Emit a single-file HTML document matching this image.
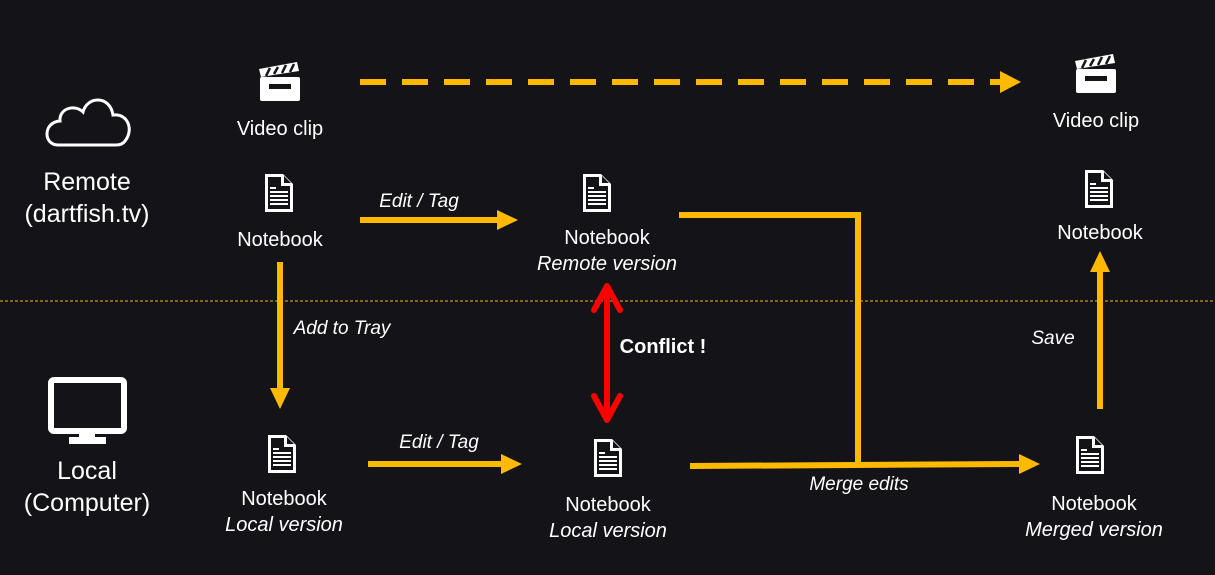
<!DOCTYPE html>
<html><head><meta charset="utf-8"><style>
html,body{margin:0;padding:0;background:#141418;}
svg{display:block}
text{font-family:"Liberation Sans",sans-serif;fill:#fff;text-anchor:middle}
.i{font-style:italic}
</style></head><body>
<svg width="1215" height="575" viewBox="0 0 1215 575" xmlns="http://www.w3.org/2000/svg">
<defs>
<g id="doc">
<path d="M2,2 H20 L30,12 V40 H2 Z" fill="#fff"/>
<path d="M5,5 H18 V14 H27 V37 H5 Z" fill="#141418"/>
<path d="M21,4 L28,11 H21 Z" fill="#141418"/>
<rect x="7" y="15" width="6" height="2" fill="#fff"/>
<rect x="7" y="19" width="18" height="2" fill="#fff"/>
<rect x="7" y="23" width="18" height="2" fill="#fff"/>
<rect x="7" y="27" width="18" height="2" fill="#fff"/>
<rect x="7" y="31" width="18" height="2" fill="#fff"/>
</g>
<g id="clap">
<rect x="1" y="15" width="40" height="24" rx="2" fill="#fff"/>
<path d="M0,7 L38,0 L40,9 L2,15 Z" fill="#fff"/>
<path d="M7,14 L11,6 M15,12 L19,5 M23,11 L27,3 M31,10 L35,2" stroke="#141418" stroke-width="2.5"/>
<rect x="10" y="22" width="22" height="5" fill="#141418"/>
</g>
</defs>

<line x1="0" y1="301" x2="1215" y2="301" stroke="#c8961a" stroke-width="1.2" stroke-dasharray="3,2"/>

<!-- cloud -->
<path d="M58,145 C43,145 43,122 60,121 C59,108 75,104 83,112 C87,96 110,95 113,115 C128,113 134,130 125,141 C123,144 120,145 116,145 Z" fill="none" stroke="#fff" stroke-width="3"/>
<text x="87" y="190" font-size="25">Remote</text>
<text x="87" y="222" font-size="25">(dartfish.tv)</text>

<!-- monitor -->
<rect x="51" y="380" width="73" height="51" rx="3" fill="none" stroke="#fff" stroke-width="6"/>
<rect x="79" y="431" width="16" height="6" fill="#fff"/>
<rect x="69" y="437" width="37" height="7" fill="#fff"/>
<text x="87" y="479" font-size="25">Local</text>
<text x="87" y="511" font-size="25">(Computer)</text>

<!-- top row -->
<use href="#clap" x="259" y="62"/>
<text x="280" y="135" font-size="20">Video clip</text>
<use href="#doc" x="263" y="172"/>
<text x="280" y="246" font-size="20">Notebook</text>

<use href="#clap" x="1075" y="54"/>
<text x="1096" y="127" font-size="20">Video clip</text>
<use href="#doc" x="1083" y="168"/>
<text x="1100" y="239" font-size="20">Notebook</text>

<use href="#doc" x="581" y="172"/>
<text x="607" y="244" font-size="20">Notebook</text>
<text x="607" y="270" font-size="20" class="i">Remote version</text>

<!-- bottom row -->
<use href="#doc" x="266" y="433"/>
<text x="284" y="505" font-size="20">Notebook</text>
<text x="284" y="531" font-size="20" class="i">Local version</text>

<use href="#doc" x="592" y="437"/>
<text x="608" y="511" font-size="20">Notebook</text>
<text x="608" y="537" font-size="20" class="i">Local version</text>

<use href="#doc" x="1074" y="434"/>
<text x="1094" y="510" font-size="20">Notebook</text>
<text x="1094" y="536" font-size="20" class="i">Merged version</text>

<!-- dashed arrow -->
<line x1="360" y1="82" x2="1000" y2="82" stroke="#ffb900" stroke-width="6" stroke-dasharray="26,16"/>
<path d="M1000,71 L1021,82 L1000,93 Z" fill="#ffb900"/>

<!-- Edit/Tag top -->
<line x1="360" y1="220" x2="498" y2="220" stroke="#ffb900" stroke-width="6"/>
<path d="M497,210 L518,220 L497,230 Z" fill="#ffb900"/>
<text x="419" y="207" font-size="19" class="i">Edit / Tag</text>

<!-- remote to merge -->
<polyline points="679,215 858,215 858,464" fill="none" stroke="#ffb900" stroke-width="6"/>

<!-- add to tray -->
<line x1="280" y1="262" x2="280" y2="390" stroke="#ffb900" stroke-width="6"/>
<path d="M270,388 L280,409 L290,388 Z" fill="#ffb900"/>
<text x="342" y="334" font-size="19" class="i">Add to Tray</text>

<!-- conflict -->
<line x1="607" y1="288" x2="607" y2="418" stroke="#ff0000" stroke-width="6"/>
<polyline points="594,310 607,286 620,310" fill="none" stroke="#ff0000" stroke-width="6" stroke-linecap="round" stroke-linejoin="round"/>
<polyline points="594,396 607,420 620,396" fill="none" stroke="#ff0000" stroke-width="6" stroke-linecap="round" stroke-linejoin="round"/>
<text x="663" y="353" font-size="20" font-weight="bold">Conflict !</text>

<!-- Edit/Tag bottom -->
<line x1="368" y1="464" x2="502" y2="464" stroke="#ffb900" stroke-width="6"/>
<path d="M501,454 L522,464 L501,474 Z" fill="#ffb900"/>
<text x="439" y="448" font-size="19" class="i">Edit / Tag</text>

<!-- merge -->
<line x1="690" y1="466" x2="1020" y2="464" stroke="#ffb900" stroke-width="6"/>
<path d="M1019,454 L1040,464 L1019,474 Z" fill="#ffb900"/>
<text x="859" y="490" font-size="19" class="i">Merge edits</text>

<!-- save -->
<line x1="1100" y1="409" x2="1100" y2="270" stroke="#ffb900" stroke-width="6"/>
<path d="M1090,272 L1100,251 L1110,272 Z" fill="#ffb900"/>
<text x="1053" y="344" font-size="19" class="i">Save</text>
</svg>
</body></html>
